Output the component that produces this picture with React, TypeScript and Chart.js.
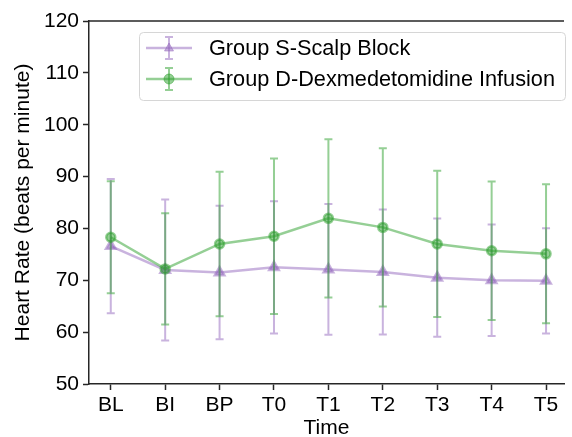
import React, { useEffect, useRef } from 'react';
import { Chart, registerables } from 'chart.js';

Chart.register(...registerables);

const categories = ['BL', 'BI', 'BP', 'T0', 'T1', 'T2', 'T3', 'T4', 'T5'];
const groupSMean = [76.6, 72.0, 71.5, 72.5, 72.1, 71.6, 70.5, 70.0, 69.9];
const groupSSD = [12.95, 13.6, 12.85, 12.75, 12.6, 12.05, 11.4, 10.75, 10.15];
const groupDMean = [78.3, 72.2, 77.0, 78.5, 81.95, 80.2, 77.0, 75.7, 75.1];
const groupDSD = [10.8, 10.75, 13.95, 15.0, 15.25, 15.25, 14.1, 13.35, 13.4];
const seriesLabels = ['Group S-Scalp Block', 'Group D-Dexmedetomidine Infusion'];
const yMin = 50;
const yMax = 120;
const yStep = 10;

const S_COLOR = 'rgba(148,103,189,0.5)';
const D_COLOR = 'rgba(44,160,44,0.5)';
const FONT = '"Liberation Sans", Arial, sans-serif';
const AXIS_COLOR = '#262626';

const errorBarPlugin = {
  id: 'errorBars',
  beforeDatasetDraw(chart: any, args: any) {
    const ds = chart.data.datasets[args.index];
    const errs: number[] = ds.errorValues;
    if (!errs) return;
    const ctx = chart.ctx;
    const xs = chart.scales.x;
    const ys = chart.scales.y;
    ctx.save();
    ctx.strokeStyle = ds.borderColor;
    ctx.lineWidth = 2;
    ds.data.forEach((p: any, i: number) => {
      const x = xs.getPixelForValue(p.x);
      const yt = ys.getPixelForValue(p.y + errs[i]);
      const yb = ys.getPixelForValue(p.y - errs[i]);
      ctx.beginPath();
      ctx.moveTo(x, yt);
      ctx.lineTo(x, yb);
      ctx.moveTo(x - 4, yt);
      ctx.lineTo(x + 4, yt);
      ctx.moveTo(x - 4, yb);
      ctx.lineTo(x + 4, yb);
      ctx.stroke();
    });
    ctx.restore();
  },
};

const framePlugin = {
  id: 'frameTop',
  afterDraw(chart: any) {
    const { ctx, chartArea } = chart;
    ctx.save();
    ctx.strokeStyle = AXIS_COLOR;
    ctx.lineWidth = 1.5;
    ctx.beginPath();
    ctx.moveTo(chartArea.left, chartArea.top);
    ctx.lineTo(chartArea.right, chartArea.top);
    ctx.stroke();
    ctx.restore();
  },
};

function drawMarker(ctx: CanvasRenderingContext2D, style: string, x: number, y: number, r: number, color: string) {
  ctx.fillStyle = color;
  ctx.strokeStyle = color;
  ctx.lineWidth = 1;
  ctx.beginPath();
  if (style === 'triangle') {
    ctx.moveTo(x, y - r);
    ctx.lineTo(x + r * 0.9, y + r * 0.6);
    ctx.lineTo(x - r * 0.9, y + r * 0.6);
    ctx.closePath();
  } else {
    ctx.arc(x, y, r, 0, Math.PI * 2);
  }
  ctx.fill();
  ctx.stroke();
}

const legendPlugin = {
  id: 'customLegend',
  afterDraw(chart: any) {
    const { ctx, chartArea } = chart;
    const left = chartArea.left + 50;
    const top = chartArea.top + 11;
    const w = 426;
    const h = 68;
    ctx.save();
    ctx.fillStyle = 'rgba(255,255,255,0.8)';
    ctx.strokeStyle = '#d6d6d6';
    ctx.lineWidth = 1;
    ctx.beginPath();
    (ctx as any).roundRect(left + 0.5, top + 0.5, w, h, 4);
    ctx.fill();
    ctx.stroke();
    const rows = [top + 16, top + 47];
    chart.data.datasets.forEach((ds: any, i: number) => {
      const cy = rows[i];
      const x0 = left + 7;
      const x1 = left + 53;
      const cx = (x0 + x1) / 2;
      ctx.strokeStyle = ds.borderColor;
      ctx.lineWidth = 2.5;
      ctx.beginPath();
      ctx.moveTo(x0, cy);
      ctx.lineTo(x1, cy);
      ctx.stroke();
      ctx.lineWidth = 2;
      ctx.beginPath();
      ctx.moveTo(cx, cy - 11);
      ctx.lineTo(cx, cy + 11);
      ctx.moveTo(cx - 4, cy - 11);
      ctx.lineTo(cx + 4, cy - 11);
      ctx.moveTo(cx - 4, cy + 11);
      ctx.lineTo(cx + 4, cy + 11);
      ctx.stroke();
      drawMarker(ctx, ds.pointStyle, cx, cy, 5, ds.borderColor);
      ctx.fillStyle = '#000';
      ctx.font = `21.7px ${FONT}`;
      ctx.textBaseline = 'middle';
      ctx.textAlign = 'left';
      ctx.fillText(ds.label, left + 70, cy + 1);
    });
    ctx.restore();
  },
};

export default function App() {
  const ref = useRef<HTMLCanvasElement | null>(null);
  useEffect(() => {
    if (!ref.current) return;
    const chart = new Chart(ref.current, {
      type: 'line',
      data: {
        datasets: [
          {
            label: seriesLabels[0],
            data: groupSMean.map((v, i) => ({ x: i, y: v })),
            errorValues: groupSSD,
            borderColor: S_COLOR,
            backgroundColor: S_COLOR,
            pointBackgroundColor: S_COLOR,
            pointBorderColor: S_COLOR,
            pointStyle: 'triangle',
            pointRadius: 5.5,
            borderWidth: 2.5,
            tension: 0,
            order: 1,
          } as any,
          {
            label: seriesLabels[1],
            data: groupDMean.map((v, i) => ({ x: i, y: v })),
            errorValues: groupDSD,
            borderColor: D_COLOR,
            backgroundColor: D_COLOR,
            pointBackgroundColor: D_COLOR,
            pointBorderColor: D_COLOR,
            pointStyle: 'circle',
            pointRadius: 4.5,
            borderWidth: 2.5,
            tension: 0,
            order: 0,
          } as any,
        ],
      },
      options: {
        responsive: false,
        animation: false,
        devicePixelRatio: 1,
        layout: { padding: { top: 21, right: 0, bottom: 0, left: 11 } },
        plugins: { legend: { display: false }, tooltip: { enabled: false } },
        scales: {
          x: {
            type: 'linear',
            min: -0.4,
            max: 8.33,
            afterBuildTicks: (s: any) => {
              s.ticks = categories.map((_, i) => ({ value: i }));
            },
            afterFit: (s: any) => {
              s.height = 53;
            },
            ticks: {
              autoSkip: false,
              maxRotation: 0,
              padding: 3,
              color: '#000',
              font: { size: 21, family: FONT },
              callback: (v: any) => categories[v as number],
            },
            grid: {
              drawOnChartArea: false,
              drawTicks: true,
              tickLength: 6,
              tickColor: AXIS_COLOR,
              tickWidth: 1.5,
            },
            border: { color: AXIS_COLOR, width: 1.5 },
            title: {
              display: true,
              text: 'Time',
              color: '#000',
              font: { size: 21, family: FONT },
              padding: { top: 0, bottom: -4 },
            },
          },
          y: {
            min: yMin,
            max: yMax,
            afterFit: (s: any) => {
              s.width = 78;
            },
            ticks: {
              stepSize: yStep,
              padding: 4,
              color: '#000',
              font: { size: 21, family: FONT },
            },
            grid: {
              drawOnChartArea: false,
              drawTicks: true,
              tickLength: 6,
              tickColor: AXIS_COLOR,
              tickWidth: 1.5,
            },
            border: { color: AXIS_COLOR, width: 1.5 },
            title: {
              display: true,
              text: 'Heart Rate (beats per minute)',
              color: '#000',
              font: { size: 21, family: FONT },
              padding: 0,
            },
          },
        },
      } as any,
      plugins: [errorBarPlugin, framePlugin, legendPlugin],
    });
    return () => chart.destroy();
  }, []);
  return (
    <div style={{ position: 'absolute', left: 0, top: 0, width: 572, height: 437, background: '#fff' }}>
      <canvas ref={ref} width={572} height={437} style={{ display: 'block' }} />
    </div>
  );
}
